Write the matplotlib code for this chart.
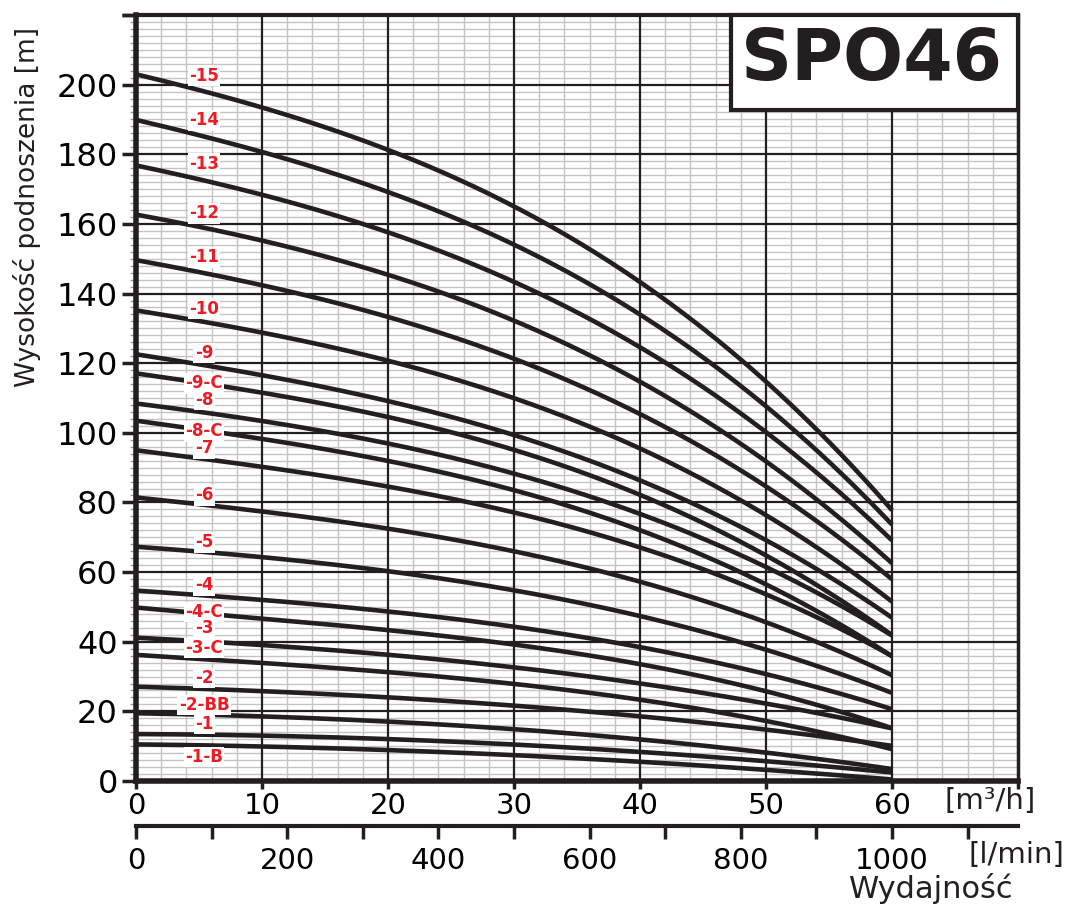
import numpy as np
import matplotlib.pyplot as plt
from matplotlib.patches import Rectangle

q = [0, 10, 20, 30, 40, 50, 60]

# head [m] of every pump version at those flows
h15 = [202, 196, 180, 164, 143, 116.5, 77]
h14 = [189, 183, 168, 153, 134, 109, 73]
h13 = [176, 170.5, 156.5, 142.5, 124.5, 101.5, 68.5]
h12 = [162, 157, 144.5, 131.5, 114.5, 93, 62]
h11 = [149, 144, 132.5, 120.5, 105.5, 85.5, 57.5]
h10 = [134.5, 130.5, 120, 109, 95.5, 77.5, 51]
h9 = [122, 118, 108.5, 98.5, 86.5, 70, 46.5]
h9c = [116.5, 113, 104, 94, 82.6, 65.5, 41.5]
h8 = [108, 104.5, 96.5, 87.5, 77, 62, 41.5]
h8c = [103, 99.5, 91.5, 82.5, 72.5, 57, 35.5]
h7 = [94.5, 91.5, 84, 76.5, 67, 54.5, 35.5]
h6 = [81, 78.5, 72, 65.5, 57, 46.5, 30]
h5 = [67, 65, 60, 54.5, 47, 38.5, 25]
h4 = [54.5, 52.5, 48.5, 44, 38.5, 31, 20.5]
h4c = [49.5, 47.5, 43, 38.5, 34, 26, 15]
h3 = [41, 39.5, 36, 32.5, 28, 22.5, 15]
h3c = [36, 34.5, 31, 27.5, 23.5, 17.5, 9]
h2 = [27, 26, 24, 21.5, 18.5, 15, 10]
h2bb = [19.5, 18.5, 17, 15, 12, 8, 3.5]
h1 = [13.5, 13, 12, 10.5, 8.5, 5.5, 2.5]
h1b = [10.5, 10, 8.7, 7.5, 5.7, 3, 0.5]

names = ['-15', '-14', '-13', '-12', '-11', '-10', '-9', '-9-C', '-8', '-8-C',
         '-7', '-6', '-5', '-4', '-4-C', '-3', '-3-C', '-2', '-2-BB', '-1', '-1-B']
heads = [h15, h14, h13, h12, h11, h10, h9, h9c, h8, h8c,
         h7, h6, h5, h4, h4c, h3, h3c, h2, h2bb, h1, h1b]
# where the red names sit (head value)
label_y = [202.6, 189.7, 177.3, 163, 150.4, 135.7, 122.9, 114.2, 109.4, 100.4,
           95.5, 82, 68.5, 56.2, 48.5, 43.9, 38.2, 29.6, 21.8, 16.4, 6.9]

ink = '#231f20'
red = '#ed1c24'

fig = plt.figure(figsize=(10.7, 9.07), dpi=100)
L, B = 136 / 1070, 126 / 907
W, H = (1018 - 136) / 1070, (781 - 15) / 907
ax = fig.add_axes([L, B, W, H])

ax.set_xlim(0, 70)
ax.set_ylim(0, 220)

# grid: thin grey minor lines, black major lines drawn on top of them
xmaj = np.arange(0, 71, 10)
ymaj = np.arange(0, 221, 20)
ax.set_xticks(xmaj)
ax.set_xticks([v for v in range(0, 71, 2) if v % 10], minor=True)
ax.set_yticks([v for v in range(0, 221, 2) if v % 20], minor=True)
ax.grid(which='minor', color='#c4c4c4', lw=1.0)
ax.set_axisbelow(True)
for v in xmaj[1:-1]:
    ax.axvline(v, color=ink, lw=1.6, zorder=1)
for v in ymaj[1:]:
    ax.axhline(v, color=ink, lw=1.6, zorder=1)

ax.set_xticklabels(['0', '10', '20', '30', '40', '50', '60', ''])
ax.set_yticks(list(ymaj) + [220])
ax.set_yticklabels([str(v) for v in ymaj] + [''])
ax.tick_params(axis='y', which='major', length=10, width=2.5, color=ink,
               labelsize=23, pad=3)
ax.tick_params(axis='y', which='minor', length=4, width=1, color='#999999')
ax.tick_params(axis='x', which='major', length=6, width=2.5, color=ink,
               labelsize=21, pad=2)
ax.tick_params(axis='x', which='minor', length=0)
for s in ax.spines.values():
    s.set_color(ink)
    s.set_zorder(5)
ax.spines['left'].set_linewidth(4)
ax.spines['bottom'].set_linewidth(4)
ax.spines['top'].set_linewidth(3)
ax.spines['right'].set_linewidth(2.5)

# pump curves
qq = np.linspace(0, 60, 200)
for name, h, ly in zip(names, heads, label_y):
    c = np.polyfit(q, h, 3)
    ax.plot(qq, np.polyval(c, qq), color=ink, lw=3.3, zorder=3,
            solid_capstyle='butt')
    ax.text(5.4, ly, name, color=red, fontsize=12, fontweight='bold',
            ha='center', va='center', zorder=4,
            bbox=dict(boxstyle='square,pad=0.08', fc='white', ec='none'))

# title box
ax.add_patch(Rectangle((0.6746, 0.876), 0.3254, 0.124, transform=ax.transAxes,
                       fc='white', ec=ink, lw=3, zorder=6, clip_on=False))
ax.text(0.8345, 0.9406, 'SPO46', transform=ax.transAxes, fontsize=51,
        fontweight='bold', color=ink, ha='center', va='center', zorder=7)

# second flow scale in l/min
ax2 = fig.add_axes([L, (907 - 826) / 907, W, 0.0001])
ax2.set_xlim(0, 70 / 60 * 1000)
ax2.set_ylim(0, 1)
ax2.set_yticks([])
for s in ['top', 'left', 'right']:
    ax2.spines[s].set_visible(False)
ax2.spines['bottom'].set_linewidth(3)
ax2.spines['bottom'].set_color(ink)
ax2.set_xticks(np.arange(0, 1101, 200))
ax2.set_xticks(np.arange(0, 1101, 100), minor=True)
ax2.tick_params(axis='x', which='both', length=9, width=2.5, color=ink,
                labelsize=21, pad=6)
ax2.patch.set_visible(False)

fig.text(990 / 1070, 1 - 801 / 907, '[m³/h]', fontsize=21, ha='center',
         va='center', color=ink)
fig.text(1016 / 1070, 1 - 855 / 907, '[l/min]', fontsize=21, ha='center',
         va='center', color=ink)
fig.text(931 / 1070, 1 - 889 / 907, 'Wydajność', fontsize=22, ha='center',
         va='center', color=ink)
fig.text(27 / 1070, 1 - 207 / 907, 'Wysokość podnoszenia [m]', rotation=90,
         fontsize=19, ha='center', va='center', color=ink)

fig.savefig('out.png', dpi=100, facecolor='white')
